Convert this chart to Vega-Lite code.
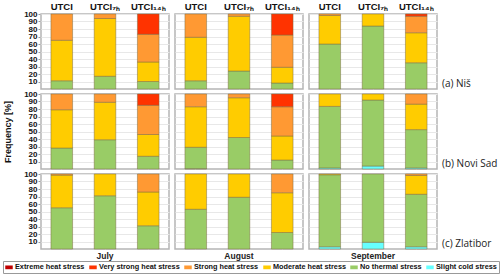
{
  "$schema": "https://vega.github.io/schema/vega-lite/v6.json",
  "padding": {"left": 2, "top": 1, "right": 2, "bottom": 0},
  "data": {"values": [
    {"city":"(a) Niš","month":"July","idx":"UTCI","cat":"No thermal stress","k":2,"v":11},
    {"city":"(a) Niš","month":"July","idx":"UTCI","cat":"Moderate heat stress","k":3,"v":54},
    {"city":"(a) Niš","month":"July","idx":"UTCI","cat":"Strong heat stress","k":4,"v":35},
    {"city":"(a) Niš","month":"July","idx":"UTCI₇ₕ","cat":"No thermal stress","k":2,"v":17},
    {"city":"(a) Niš","month":"July","idx":"UTCI₇ₕ","cat":"Moderate heat stress","k":3,"v":77},
    {"city":"(a) Niš","month":"July","idx":"UTCI₇ₕ","cat":"Strong heat stress","k":4,"v":6},
    {"city":"(a) Niš","month":"July","idx":"UTCI₁₄ₕ","cat":"No thermal stress","k":2,"v":10},
    {"city":"(a) Niš","month":"July","idx":"UTCI₁₄ₕ","cat":"Moderate heat stress","k":3,"v":26},
    {"city":"(a) Niš","month":"July","idx":"UTCI₁₄ₕ","cat":"Strong heat stress","k":4,"v":37},
    {"city":"(a) Niš","month":"July","idx":"UTCI₁₄ₕ","cat":"Very strong heat stress","k":5,"v":27},
    {"city":"(a) Niš","month":"August","idx":"UTCI","cat":"No thermal stress","k":2,"v":11},
    {"city":"(a) Niš","month":"August","idx":"UTCI","cat":"Moderate heat stress","k":3,"v":58},
    {"city":"(a) Niš","month":"August","idx":"UTCI","cat":"Strong heat stress","k":4,"v":31},
    {"city":"(a) Niš","month":"August","idx":"UTCI₇ₕ","cat":"No thermal stress","k":2,"v":24},
    {"city":"(a) Niš","month":"August","idx":"UTCI₇ₕ","cat":"Moderate heat stress","k":3,"v":73},
    {"city":"(a) Niš","month":"August","idx":"UTCI₇ₕ","cat":"Strong heat stress","k":4,"v":3},
    {"city":"(a) Niš","month":"August","idx":"UTCI₁₄ₕ","cat":"No thermal stress","k":2,"v":8},
    {"city":"(a) Niš","month":"August","idx":"UTCI₁₄ₕ","cat":"Moderate heat stress","k":3,"v":21},
    {"city":"(a) Niš","month":"August","idx":"UTCI₁₄ₕ","cat":"Strong heat stress","k":4,"v":43},
    {"city":"(a) Niš","month":"August","idx":"UTCI₁₄ₕ","cat":"Very strong heat stress","k":5,"v":28},
    {"city":"(a) Niš","month":"September","idx":"UTCI","cat":"No thermal stress","k":2,"v":60},
    {"city":"(a) Niš","month":"September","idx":"UTCI","cat":"Moderate heat stress","k":3,"v":38},
    {"city":"(a) Niš","month":"September","idx":"UTCI","cat":"Strong heat stress","k":4,"v":2},
    {"city":"(a) Niš","month":"September","idx":"UTCI₇ₕ","cat":"No thermal stress","k":2,"v":84},
    {"city":"(a) Niš","month":"September","idx":"UTCI₇ₕ","cat":"Moderate heat stress","k":3,"v":16},
    {"city":"(a) Niš","month":"September","idx":"UTCI₁₄ₕ","cat":"No thermal stress","k":2,"v":35},
    {"city":"(a) Niš","month":"September","idx":"UTCI₁₄ₕ","cat":"Moderate heat stress","k":3,"v":40},
    {"city":"(a) Niš","month":"September","idx":"UTCI₁₄ₕ","cat":"Strong heat stress","k":4,"v":22},
    {"city":"(a) Niš","month":"September","idx":"UTCI₁₄ₕ","cat":"Very strong heat stress","k":5,"v":3},
    {"city":"(b) Novi Sad","month":"July","idx":"UTCI","cat":"No thermal stress","k":2,"v":28},
    {"city":"(b) Novi Sad","month":"July","idx":"UTCI","cat":"Moderate heat stress","k":3,"v":51},
    {"city":"(b) Novi Sad","month":"July","idx":"UTCI","cat":"Strong heat stress","k":4,"v":21},
    {"city":"(b) Novi Sad","month":"July","idx":"UTCI₇ₕ","cat":"No thermal stress","k":2,"v":39},
    {"city":"(b) Novi Sad","month":"July","idx":"UTCI₇ₕ","cat":"Moderate heat stress","k":3,"v":50},
    {"city":"(b) Novi Sad","month":"July","idx":"UTCI₇ₕ","cat":"Strong heat stress","k":4,"v":11},
    {"city":"(b) Novi Sad","month":"July","idx":"UTCI₁₄ₕ","cat":"No thermal stress","k":2,"v":17},
    {"city":"(b) Novi Sad","month":"July","idx":"UTCI₁₄ₕ","cat":"Moderate heat stress","k":3,"v":29},
    {"city":"(b) Novi Sad","month":"July","idx":"UTCI₁₄ₕ","cat":"Strong heat stress","k":4,"v":39},
    {"city":"(b) Novi Sad","month":"July","idx":"UTCI₁₄ₕ","cat":"Very strong heat stress","k":5,"v":15},
    {"city":"(b) Novi Sad","month":"August","idx":"UTCI","cat":"Slight cold stress","k":1,"v":0.5},
    {"city":"(b) Novi Sad","month":"August","idx":"UTCI","cat":"No thermal stress","k":2,"v":28.5},
    {"city":"(b) Novi Sad","month":"August","idx":"UTCI","cat":"Moderate heat stress","k":3,"v":54},
    {"city":"(b) Novi Sad","month":"August","idx":"UTCI","cat":"Strong heat stress","k":4,"v":17},
    {"city":"(b) Novi Sad","month":"August","idx":"UTCI₇ₕ","cat":"No thermal stress","k":2,"v":42},
    {"city":"(b) Novi Sad","month":"August","idx":"UTCI₇ₕ","cat":"Moderate heat stress","k":3,"v":53},
    {"city":"(b) Novi Sad","month":"August","idx":"UTCI₇ₕ","cat":"Strong heat stress","k":4,"v":5},
    {"city":"(b) Novi Sad","month":"August","idx":"UTCI₁₄ₕ","cat":"No thermal stress","k":2,"v":12},
    {"city":"(b) Novi Sad","month":"August","idx":"UTCI₁₄ₕ","cat":"Moderate heat stress","k":3,"v":32},
    {"city":"(b) Novi Sad","month":"August","idx":"UTCI₁₄ₕ","cat":"Strong heat stress","k":4,"v":39},
    {"city":"(b) Novi Sad","month":"August","idx":"UTCI₁₄ₕ","cat":"Very strong heat stress","k":5,"v":17},
    {"city":"(b) Novi Sad","month":"September","idx":"UTCI","cat":"Slight cold stress","k":1,"v":1.5},
    {"city":"(b) Novi Sad","month":"September","idx":"UTCI","cat":"No thermal stress","k":2,"v":82},
    {"city":"(b) Novi Sad","month":"September","idx":"UTCI","cat":"Moderate heat stress","k":3,"v":16.5},
    {"city":"(b) Novi Sad","month":"September","idx":"UTCI₇ₕ","cat":"Slight cold stress","k":1,"v":4},
    {"city":"(b) Novi Sad","month":"September","idx":"UTCI₇ₕ","cat":"No thermal stress","k":2,"v":88},
    {"city":"(b) Novi Sad","month":"September","idx":"UTCI₇ₕ","cat":"Moderate heat stress","k":3,"v":8},
    {"city":"(b) Novi Sad","month":"September","idx":"UTCI₁₄ₕ","cat":"Slight cold stress","k":1,"v":1.5},
    {"city":"(b) Novi Sad","month":"September","idx":"UTCI₁₄ₕ","cat":"No thermal stress","k":2,"v":51},
    {"city":"(b) Novi Sad","month":"September","idx":"UTCI₁₄ₕ","cat":"Moderate heat stress","k":3,"v":34},
    {"city":"(b) Novi Sad","month":"September","idx":"UTCI₁₄ₕ","cat":"Strong heat stress","k":4,"v":13.5},
    {"city":"(c) Zlatibor","month":"July","idx":"UTCI","cat":"No thermal stress","k":2,"v":55},
    {"city":"(c) Zlatibor","month":"July","idx":"UTCI","cat":"Moderate heat stress","k":3,"v":43.5},
    {"city":"(c) Zlatibor","month":"July","idx":"UTCI","cat":"Strong heat stress","k":4,"v":1.5},
    {"city":"(c) Zlatibor","month":"July","idx":"UTCI₇ₕ","cat":"No thermal stress","k":2,"v":71},
    {"city":"(c) Zlatibor","month":"July","idx":"UTCI₇ₕ","cat":"Moderate heat stress","k":3,"v":29},
    {"city":"(c) Zlatibor","month":"July","idx":"UTCI₁₄ₕ","cat":"No thermal stress","k":2,"v":31},
    {"city":"(c) Zlatibor","month":"July","idx":"UTCI₁₄ₕ","cat":"Moderate heat stress","k":3,"v":45},
    {"city":"(c) Zlatibor","month":"July","idx":"UTCI₁₄ₕ","cat":"Strong heat stress","k":4,"v":24},
    {"city":"(c) Zlatibor","month":"August","idx":"UTCI","cat":"No thermal stress","k":2,"v":53},
    {"city":"(c) Zlatibor","month":"August","idx":"UTCI","cat":"Moderate heat stress","k":3,"v":47},
    {"city":"(c) Zlatibor","month":"August","idx":"UTCI₇ₕ","cat":"No thermal stress","k":2,"v":69},
    {"city":"(c) Zlatibor","month":"August","idx":"UTCI₇ₕ","cat":"Moderate heat stress","k":3,"v":31},
    {"city":"(c) Zlatibor","month":"August","idx":"UTCI₁₄ₕ","cat":"No thermal stress","k":2,"v":22},
    {"city":"(c) Zlatibor","month":"August","idx":"UTCI₁₄ₕ","cat":"Moderate heat stress","k":3,"v":53},
    {"city":"(c) Zlatibor","month":"August","idx":"UTCI₁₄ₕ","cat":"Strong heat stress","k":4,"v":25},
    {"city":"(c) Zlatibor","month":"September","idx":"UTCI","cat":"Slight cold stress","k":1,"v":3},
    {"city":"(c) Zlatibor","month":"September","idx":"UTCI","cat":"No thermal stress","k":2,"v":96},
    {"city":"(c) Zlatibor","month":"September","idx":"UTCI","cat":"Moderate heat stress","k":3,"v":1},
    {"city":"(c) Zlatibor","month":"September","idx":"UTCI₇ₕ","cat":"Slight cold stress","k":1,"v":9},
    {"city":"(c) Zlatibor","month":"September","idx":"UTCI₇ₕ","cat":"No thermal stress","k":2,"v":91},
    {"city":"(c) Zlatibor","month":"September","idx":"UTCI₁₄ₕ","cat":"Slight cold stress","k":1,"v":3},
    {"city":"(c) Zlatibor","month":"September","idx":"UTCI₁₄ₕ","cat":"No thermal stress","k":2,"v":70},
    {"city":"(c) Zlatibor","month":"September","idx":"UTCI₁₄ₕ","cat":"Moderate heat stress","k":3,"v":25},
    {"city":"(c) Zlatibor","month":"September","idx":"UTCI₁₄ₕ","cat":"Strong heat stress","k":4,"v":2}
  ]},
  "facet": {
    "row": {"field": "city", "type": "nominal", "title": "Frequency [%]",
      "header": {"titleOrient": "left", "titleFont": "Liberation Sans", "titleFontSize": 9, "titleFontWeight": "bold", "titleColor": "#111", "titlePadding": 0,
        "labelOrient": "right", "labelAngle": 0, "labelAnchor": "end", "labelBaseline": "bottom", "labelExpr": "[datum.label, ' ']", "labelLineHeight": 9, "labelFont": "Open Sans", "labelFontSize": 10, "labelColor": "#222", "labelPadding": 4}},
    "column": {"field": "month", "type": "nominal", "title": null, "sort": ["July", "August", "September"],
      "header": {"labelOrient": "bottom", "labelFont": "Liberation Sans", "labelFontWeight": "bold", "labelFontSize": 8.5, "labelColor": "#222", "labelPadding": 1}}
  },
  "spacing": {"row": 1, "column": 4},
  "spec": {
    "width": 128,
    "height": 75,
    "mark": {"type": "bar", "stroke": "#7a6a40", "strokeWidth": 0.6, "strokeOpacity": 0.8},
    "encoding": {
      "x": {"field": "idx", "type": "nominal", "sort": ["UTCI", "UTCI₇ₕ", "UTCI₁₄ₕ"],
        "scale": {"paddingInner": 0.5, "paddingOuter": 0.23},
        "axis": {"orient": "top", "title": null, "labelAngle": 0, "ticks": false, "domain": false, "labelFont": "Liberation Sans", "labelFontWeight": "bold", "labelFontSize": 9.5, "labelColor": "#111", "labelPadding": 1}},
      "y": {"field": "v", "type": "quantitative", "stack": "zero",
        "scale": {"domain": [0, 100], "nice": false},
        "axis": {"title": null,
          "values": [10, 20, 30, 40, 50, 60, 70, 80, 90, 100], "labelOverlap": false, "labelFont": "Liberation Sans", "labelFontWeight": "bold", "labelFontSize": 8, "labelColor": "#111", "tickSize": 2, "tickColor": "#999", "domain": false, "gridColor": "#e8e8e8", "labelPadding": 1}},
      "color": {"field": "cat", "type": "nominal",
        "scale": {"domain": ["Extreme heat stress", "Very strong heat stress", "Strong heat stress", "Moderate heat stress", "No thermal stress", "Slight cold stress"],
          "range": ["#C00000", "#FF3300", "#FF9933", "#FFCC00", "#99CC66", "#66FFFF"]},
        "legend": {"title": null, "orient": "none", "legendX": -38, "legendY": 247, "direction": "horizontal", "columns": 6, "symbolType": "M-1,-0.5H1V0.5H-1Z", "symbolSize": 56, "symbolStrokeWidth": 0, "symbolOpacity": 1,
          "labelFont": "Liberation Sans", "labelFontWeight": "bold", "labelFontSize": 7.3, "labelColor": "#111", "columnPadding": 4, "strokeColor": "#999", "padding": 2, "labelOffset": 2}},
      "order": {"field": "k", "type": "quantitative", "sort": "ascending"}
    }
  },
  "config": {
    "view": {"stroke": "#b5b5b5", "strokeWidth": 1.5},
    "axis": {"grid": true}
  }
}
